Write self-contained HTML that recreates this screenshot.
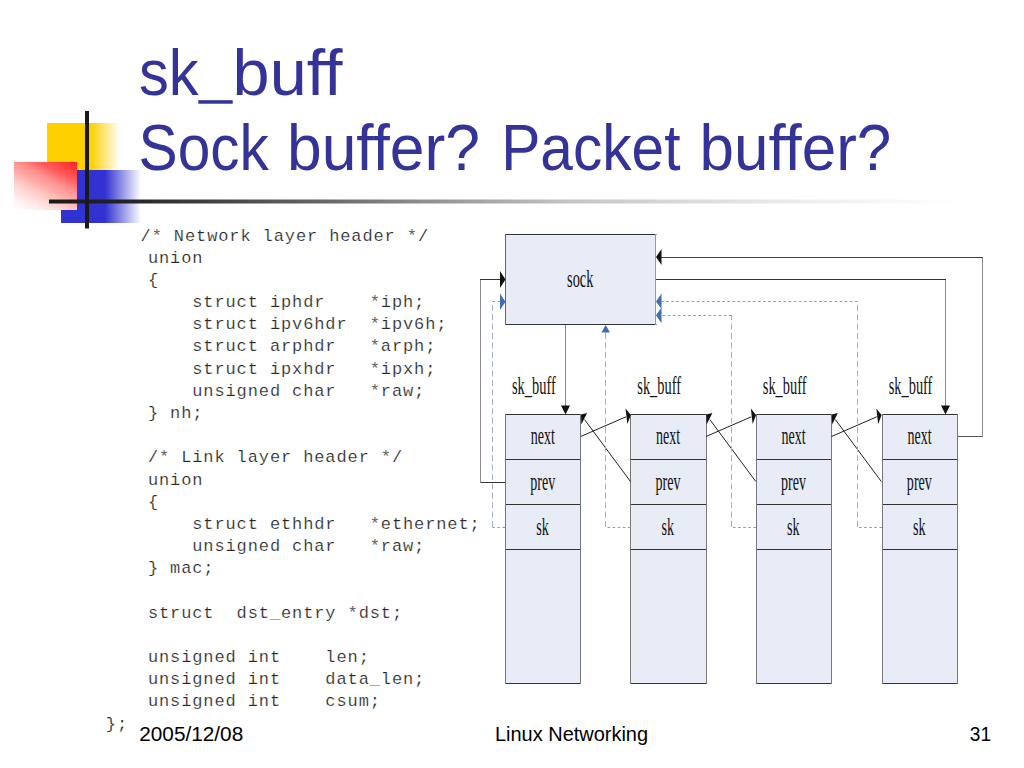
<!DOCTYPE html>
<html><head><meta charset="utf-8"><title>sk_buff</title>
<style>
html,body{margin:0;padding:0;background:#fff;}
body{width:1024px;height:768px;overflow:hidden;position:relative;}
svg{position:absolute;left:0;top:0;}
.t{font-family:"Liberation Sans",sans-serif;fill:#333399;font-size:65px;}
.c{font-family:"Liberation Mono",monospace;font-size:17px;letter-spacing:0.89px;fill:#262626;stroke:#fff;stroke-width:0.2px;}
.c text{white-space:pre;}
.f{font-family:"Liberation Sans",sans-serif;font-size:20.8px;fill:#000;}
.d{font-family:"Liberation Serif",serif;font-size:25.5px;fill:#111;}
</style></head>
<body>
<svg width="1024" height="768" viewBox="0 0 1024 768">
<defs>
  <linearGradient id="gy" x1="0" y1="0" x2="1" y2="0">
    <stop offset="0" stop-color="#FFD000"/>
    <stop offset="0.6" stop-color="#FFD000"/>
    <stop offset="1" stop-color="#FFD000" stop-opacity="0"/>
  </linearGradient>
  <linearGradient id="gb" x1="0" y1="0" x2="1" y2="0">
    <stop offset="0" stop-color="#3232D2"/>
    <stop offset="0.55" stop-color="#3232D2"/>
    <stop offset="1" stop-color="#3232D2" stop-opacity="0"/>
  </linearGradient>
  <linearGradient id="gr" x1="1" y1="0" x2="0.231" y2="1.154">
    <stop offset="0" stop-color="#FF2020"/>
    <stop offset="0.25" stop-color="#FF5E5E"/>
    <stop offset="0.4" stop-color="#FF9494"/>
    <stop offset="0.5" stop-color="#FFA8A8"/>
    <stop offset="0.6" stop-color="#FFC4BE"/>
    <stop offset="0.7" stop-color="#FFD8D6"/>
    <stop offset="0.85" stop-color="#FFF0F0"/>
    <stop offset="1" stop-color="#FFFFFF"/>
  </linearGradient>
  <linearGradient id="gl" gradientUnits="userSpaceOnUse" x1="49" y1="0" x2="960" y2="0">
    <stop offset="0" stop-color="#1a1a1a"/>
    <stop offset="0.078" stop-color="#222"/>
    <stop offset="0.199" stop-color="#484848"/>
    <stop offset="0.309" stop-color="#6a6a6a"/>
    <stop offset="0.44" stop-color="#999"/>
    <stop offset="0.572" stop-color="#c4c4c4"/>
    <stop offset="0.704" stop-color="#dadada"/>
    <stop offset="0.835" stop-color="#eee"/>
    <stop offset="1" stop-color="#fff"/>
  </linearGradient>
</defs>
<rect x="47" y="123" width="73" height="47" fill="url(#gy)"/>
<rect x="61" y="170" width="80" height="53" fill="url(#gb)"/>
<rect x="14" y="162" width="63" height="48" fill="url(#gr)"/>
<rect x="49" y="199.5" width="911" height="4" fill="url(#gl)"/>
<rect x="85" y="111" width="4" height="117.5" fill="#1a1a1a"/>
<rect x="198.3" y="100.2" width="34.4" height="3.5" fill="#333399"/>
<text class="t" transform="translate(139.04 94.7) scale(0.9181 1)">sk</text>
<text class="t" transform="translate(232.61 94.7) scale(1.0247 1)">buff</text>
<text class="t" transform="translate(138.54 170.2) scale(0.9022 1)">Sock</text>
<text class="t" transform="translate(286.98 170.2) scale(0.9593 1)">buffer?</text>
<text class="t" transform="translate(501.19 170.2) scale(0.9025 1)">Packet</text>
<text class="t" transform="translate(699.51 170.2) scale(0.9532 1)">buffer?</text>
<g class="c">
<text x="140.6" y="240.5">/* Network layer header */</text>
<text x="147.9" y="262.69">union</text>
<text x="147.9" y="284.88">{</text>
<text x="147.9" y="307.07">    struct iphdr    *iph;</text>
<text x="147.9" y="329.26">    struct ipv6hdr  *ipv6h;</text>
<text x="147.9" y="351.45">    struct arphdr   *arph;</text>
<text x="147.9" y="373.64">    struct ipxhdr   *ipxh;</text>
<text x="147.9" y="395.83">    unsigned char   *raw;</text>
<text x="147.9" y="418.02">} nh;</text>
<text x="147.9" y="462.4">/* Link layer header */</text>
<text x="147.9" y="484.59">union</text>
<text x="147.9" y="506.78">{</text>
<text x="147.9" y="528.97">    struct ethhdr   *ethernet;</text>
<text x="147.9" y="551.16">    unsigned char   *raw;</text>
<text x="147.9" y="573.35">} mac;</text>
<text x="147.9" y="617.73">struct  dst_entry *dst;</text>
<text x="147.9" y="662.11">unsigned int    len;</text>
<text x="147.9" y="684.3">unsigned int    data_len;</text>
<text x="147.9" y="706.49">unsigned int    csum;</text>
<text x="105.8" y="728.68">};</text>
</g>
<text class="f" transform="translate(139.25 741.1) scale(0.9995 1)">2005/12/08</text>
<text class="f" transform="translate(494.96 741.1) scale(0.9604 1)">Linux Networking</text>
<text class="f" transform="translate(969.77 741.1) scale(0.9190 1)">31</text>
<rect x="505" y="234" width="151" height="91" fill="#E8ECF7"/>
<path d="M505 234.5H656.5M505 324.5H656.5" stroke="#333" stroke-width="1" fill="none"/>
<path d="M505.5 234V325" stroke="#666" stroke-width="1" fill="none"/>
<path d="M655.5 234V325" stroke="#999" stroke-width="1" fill="none"/>
<text class="d" transform="translate(567.11 287.1) scale(0.5624 1)">sock</text>
<rect x="505.5" y="414" width="75" height="270" fill="#E8ECF7"/>
<path d="M505 414.5H581M505 459.5H581M505 504.5H581M505 549.5H581M505 683.5H581" stroke="#333" stroke-width="1.2" fill="none"/>
<path d="M505.5 414V684M580.5 414V684" stroke="#777" stroke-width="1" fill="none"/>
<text class="d" transform="translate(512.01 394) scale(0.5647 1)">sk_buff</text>
<text class="d" transform="translate(530.68 444.4) scale(0.5513 1)">next</text>
<text class="d" transform="translate(530.17 489.5) scale(0.5524 1)">prev</text>
<text class="d" transform="translate(536.32 534.7) scale(0.5548 1)">sk</text>
<rect x="630.5" y="414" width="76" height="270" fill="#E8ECF7"/>
<path d="M630 414.5H707M630 459.5H707M630 504.5H707M630 549.5H707M630 683.5H707" stroke="#333" stroke-width="1.2" fill="none"/>
<path d="M630.5 414V684M706.5 414V684" stroke="#777" stroke-width="1" fill="none"/>
<text class="d" transform="translate(637.31 394) scale(0.5647 1)">sk_buff</text>
<text class="d" transform="translate(655.98 444.4) scale(0.5513 1)">next</text>
<text class="d" transform="translate(655.47 489.5) scale(0.5524 1)">prev</text>
<text class="d" transform="translate(661.62 534.7) scale(0.5548 1)">sk</text>
<rect x="756.5" y="414" width="75" height="270" fill="#E8ECF7"/>
<path d="M756 414.5H832M756 459.5H832M756 504.5H832M756 549.5H832M756 683.5H832" stroke="#333" stroke-width="1.2" fill="none"/>
<path d="M756.5 414V684M831.5 414V684" stroke="#777" stroke-width="1" fill="none"/>
<text class="d" transform="translate(762.81 394) scale(0.5647 1)">sk_buff</text>
<text class="d" transform="translate(781.48 444.4) scale(0.5513 1)">next</text>
<text class="d" transform="translate(780.97 489.5) scale(0.5524 1)">prev</text>
<text class="d" transform="translate(787.12 534.7) scale(0.5548 1)">sk</text>
<rect x="882.5" y="414" width="75" height="270" fill="#E8ECF7"/>
<path d="M882 414.5H958M882 459.5H958M882 504.5H958M882 549.5H958M882 683.5H958" stroke="#333" stroke-width="1.2" fill="none"/>
<path d="M882.5 414V684M957.5 414V684" stroke="#777" stroke-width="1" fill="none"/>
<text class="d" transform="translate(888.71 394) scale(0.5647 1)">sk_buff</text>
<text class="d" transform="translate(907.38 444.4) scale(0.5513 1)">next</text>
<text class="d" transform="translate(906.87 489.5) scale(0.5524 1)">prev</text>
<text class="d" transform="translate(913.02 534.7) scale(0.5548 1)">sk</text>
<g fill="none" stroke-width="1">
<path d="M505 482.5H480" stroke="#333"/>
<path d="M480.5 483V279" stroke="#8a8a8a"/>
<path d="M480 279.5H501" stroke="#333"/>
<path d="M565.5 325V407" stroke="#8a8a8a"/>
<path d="M656 279.5H946" stroke="#333"/>
<path d="M945.5 280V407" stroke="#8a8a8a"/>
<path d="M958 436.5H983" stroke="#555"/>
<path d="M982.5 437V257" stroke="#8a8a8a"/>
<path d="M983 257.5H660" stroke="#444"/>
</g>
<path d="M500 271L505.5 279.5L500 288Z" fill="#111"/>
<path d="M561 405.5L570 405.5L565.5 414.5Z" fill="#111"/>
<path d="M941 405.5L950 405.5L945.5 414.5Z" fill="#111"/>
<path d="M661.5 249L656 257L661.5 265Z" fill="#111"/>
<g transform="translate(0 0)">
<path d="M580.7 436.5L626 416.8M630.5 481.5L584.5 419.5" stroke="#222" stroke-width="1" fill="none"/>
<path d="M625.5 408.6L630.8 414.9L627.4 424.1Z" fill="#111"/>
<path d="M581 414.4L587.1 413L581.3 424.4Z" fill="#111"/>
</g>
<g transform="translate(125.3 0)">
<path d="M580.7 436.5L626 416.8M630.5 481.5L584.5 419.5" stroke="#222" stroke-width="1" fill="none"/>
<path d="M625.5 408.6L630.8 414.9L627.4 424.1Z" fill="#111"/>
<path d="M581 414.4L587.1 413L581.3 424.4Z" fill="#111"/>
</g>
<g transform="translate(250.8 0)">
<path d="M580.7 436.5L626 416.8M630.5 481.5L584.5 419.5" stroke="#222" stroke-width="1" fill="none"/>
<path d="M625.5 408.6L630.8 414.9L627.4 424.1Z" fill="#111"/>
<path d="M581 414.4L587.1 413L581.3 424.4Z" fill="#111"/>
</g>
<g fill="none" stroke="#8C9AB8" stroke-width="1">
<path d="M505 527.5H492.5" stroke-dasharray="2.6 2.5"/>
<path d="M492.5 527V302" stroke-dasharray="6 3.4" stroke="#A4AEC4"/>
<path d="M492.5 301.5H500" stroke-dasharray="2.6 2.5"/>
<path d="M630.5 527.5H605.5" stroke-dasharray="2.6 2.5"/>
<path d="M605.5 527V332" stroke-dasharray="6 3.4" stroke="#A4AEC4"/>
<path d="M756 527.5H732" stroke-dasharray="2.6 2.5"/>
<path d="M731.5 527V315" stroke-dasharray="6 3.4" stroke="#A4AEC4"/>
<path d="M731.5 315.5H661" stroke-dasharray="2.6 2.5"/>
<path d="M882 527.5H858" stroke-dasharray="2.6 2.5"/>
<path d="M857.5 527V302" stroke-dasharray="6 3.4" stroke="#A4AEC4"/>
<path d="M857.5 301.5H661" stroke-dasharray="2.6 2.5"/>
</g>
<path d="M500 293.5L505.5 301.8L500 310Z" fill="#3F6FB0"/>
<path d="M661.5 293.5L656 301.5L661.5 309Z" fill="#3F6FB0"/>
<path d="M661.5 307.5L656 315.3L661.5 323.3Z" fill="#3F6FB0"/>
<path d="M601.5 332.5L610 332.5L605.7 325Z" fill="#3F6FB0"/>
</svg>
</body></html>
